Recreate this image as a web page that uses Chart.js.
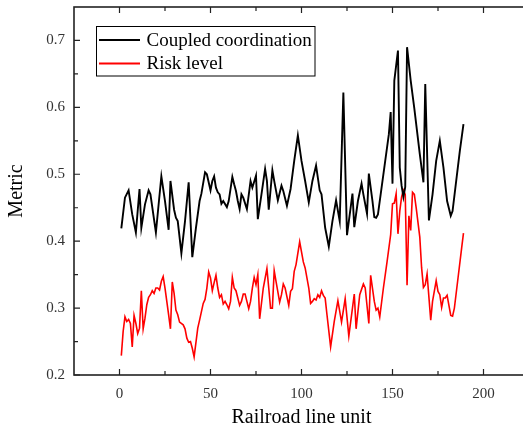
<!DOCTYPE html>
<html>
<head>
<meta charset="utf-8">
<script src="https://cdn.jsdelivr.net/npm/chart.js@4.4.1/dist/chart.umd.min.js"></script>
<style>
  html,body{margin:0;padding:0;background:#fff;overflow:hidden;}
  #wrap{width:536px;height:427px;}
</style>
</head>
<body>
<div id="wrap"><canvas id="chart" width="536" height="427"></canvas></div>
<script>
// ------------------ DATA ------------------
const coupledUnit = [1,3,5,7,9,11,12,14,16,17,20,23,25,27,28,30,31,32,34,36,38,40,42,44,45,47,48,50,51,52,53,54,55,56,57,59,60,62,63,64,65,66,67,68,70,72,73,75,76,78,80,81,82,84,85,87,89,90,92,94,96,98,100,102,104,106,108,110,111,113,115,117,119,121,123,125,127,128,129,131,133,134,136,137,139,140,141,142,144,146,148,149,150,151,153,154,155,156,157,158,160,162,165,167,168,170,172,174,176,178,180,182,183,185,187,189];
const coupledValue = [0.419,0.465,0.476,0.44,0.413,0.478,0.42,0.455,0.476,0.47,0.413,0.497,0.46,0.417,0.49,0.447,0.435,0.43,0.382,0.43,0.488,0.376,0.42,0.46,0.471,0.503,0.5,0.476,0.49,0.497,0.48,0.473,0.47,0.456,0.46,0.451,0.46,0.496,0.485,0.475,0.46,0.448,0.47,0.465,0.448,0.49,0.48,0.498,0.433,0.47,0.508,0.49,0.447,0.506,0.49,0.461,0.483,0.475,0.453,0.478,0.52,0.558,0.52,0.49,0.458,0.49,0.513,0.476,0.47,0.42,0.392,0.43,0.461,0.43,0.622,0.409,0.45,0.471,0.421,0.46,0.486,0.47,0.441,0.501,0.46,0.436,0.435,0.44,0.48,0.52,0.56,0.593,0.486,0.64,0.685,0.51,0.483,0.466,0.481,0.69,0.64,0.598,0.53,0.488,0.635,0.431,0.47,0.52,0.55,0.51,0.46,0.438,0.445,0.49,0.535,0.575];

const riskUnit = [1,2,3,4,5,6,7,8,9,10,11,12,13,14,15,16,17,18,19,20,21,22,23,24,25,27,28,29,30,31,32,33,35,36,37,38,39,40,41,43,44,46,47,48,49,50,51,52,53,54,55,56,57,58,59,60,61,62,63,64,65,66,67,68,69,70,71,72,73,74,75,76,77,79,81,82,83,84,85,86,88,89,90,91,93,94,95,96,97,99,101,102,104,105,106,107,108,109,110,111,112,113,114,116,118,120,122,124,126,128,129,130,132,134,135,137,138,140,141,142,143,145,147,149,150,151,152,153,154,155,156,157,158,159,160,161,162,163,165,166,167,168,169,171,172,174,175,176,177,178,179,180,182,183,184,186,188,189];
const riskValue = [0.229,0.265,0.287,0.28,0.283,0.277,0.242,0.289,0.277,0.262,0.27,0.326,0.269,0.285,0.305,0.316,0.32,0.326,0.322,0.33,0.33,0.327,0.34,0.347,0.33,0.29,0.269,0.339,0.322,0.297,0.29,0.279,0.275,0.269,0.255,0.249,0.25,0.24,0.227,0.27,0.282,0.307,0.313,0.33,0.354,0.345,0.326,0.338,0.349,0.33,0.316,0.32,0.306,0.31,0.305,0.299,0.31,0.346,0.33,0.326,0.315,0.304,0.31,0.321,0.321,0.31,0.299,0.31,0.33,0.346,0.335,0.35,0.284,0.33,0.359,0.33,0.3,0.3,0.356,0.34,0.309,0.32,0.336,0.33,0.304,0.325,0.329,0.355,0.365,0.399,0.369,0.36,0.33,0.307,0.31,0.314,0.312,0.32,0.316,0.326,0.319,0.315,0.29,0.242,0.28,0.311,0.279,0.314,0.258,0.3,0.321,0.269,0.32,0.336,0.33,0.277,0.349,0.31,0.297,0.3,0.287,0.33,0.369,0.41,0.456,0.457,0.471,0.411,0.445,0.466,0.476,0.47,0.334,0.438,0.416,0.473,0.47,0.45,0.406,0.36,0.331,0.335,0.351,0.282,0.31,0.341,0.325,0.32,0.301,0.315,0.315,0.319,0.289,0.288,0.3,0.345,0.39,0.412];

const xTicks = [0,50,100,150,200];
const yTicks = [0.2,0.3,0.4,0.5,0.6,0.7];

const serif = "'Times New Roman','Liberation Serif',serif";

// ------------------ FRAME + INWARD TICKS ------------------
const framePlugin = {
  id:"frame",
  afterDatasetsDraw(chart){
    const {ctx, chartArea:a, scales:{x,y}} = chart;
    ctx.save();
    ctx.strokeStyle = "#222";
    ctx.lineWidth = 1.6;
    ctx.strokeRect(a.left, a.top, a.right-a.left, a.bottom-a.top);
    ctx.lineWidth = 1.2;
    ctx.beginPath();
    const tickX = (v,len)=>{
      const px = x.getPixelForValue(v);
      ctx.moveTo(px,a.bottom); ctx.lineTo(px,a.bottom-len);
      ctx.moveTo(px,a.top); ctx.lineTo(px,a.top+len);
    };
    const tickY = (v,len)=>{
      const py = y.getPixelForValue(v);
      ctx.moveTo(a.left,py); ctx.lineTo(a.left+len,py);
      ctx.moveTo(a.right,py); ctx.lineTo(a.right-len,py);
    };
    xTicks.forEach(v=>{ tickX(v,6); tickX(v+25,4); });
    yTicks.forEach(v=>{ tickY(v,6); if(v<0.7) tickY(v+0.05,4); });
    ctx.stroke();
    ctx.restore();
  }
};

// ------------------ LEGEND BOX ------------------
const legendBox = {
  id:"legendBox",
  afterDatasetsDraw(chart){
    const ctx = chart.ctx;
    ctx.save();
    ctx.fillStyle = "#fff";
    ctx.fillRect(96.5,26.5,218.5,49.5);
    ctx.strokeStyle = "#000";
    ctx.lineWidth = 1;
    ctx.strokeRect(96.5,26.5,218.5,49.5);
    ctx.font = "19px " + serif;
    ctx.textBaseline = "middle";
    chart.data.datasets.forEach((ds,i)=>{
      const cy = 40 + i*23.5;
      ctx.strokeStyle = ds.borderColor;
      ctx.lineWidth = 2;
      ctx.beginPath(); ctx.moveTo(99,cy); ctx.lineTo(140,cy); ctx.stroke();
      ctx.fillStyle = "#000";
      ctx.fillText(ds.label,146.5,cy+1);
    });
    ctx.restore();
  }
};

// ------------------ CHART ------------------
const ctx = document.getElementById("chart").getContext("2d");
new Chart(ctx,{
  type:"line",
  data:{
    datasets:[
      { label:"Coupled coordination", data:coupledUnit.map((u,i)=>({x:u,y:coupledValue[i]})),
        borderColor:"#000", borderWidth:1.9, pointRadius:0, tension:0, fill:false },
      { label:"Risk level", data:riskUnit.map((u,i)=>({x:u,y:riskValue[i]})),
        borderColor:"#ff0000", borderWidth:1.6, pointRadius:0, tension:0, fill:false }
    ]
  },
  options:{
    responsive:false,
    animation:false,
    layout:{ padding:{ top:7, right:7, left:0, bottom:0 } },
    plugins:{ legend:{display:false}, tooltip:{enabled:false} },
    scales:{
      x:{
        type:"linear", min:-25, max:225,
        afterFit(s){ s.height = 52; s.paddingLeft = 0; s.paddingRight = 0; },
        afterBuildTicks(s){ s.ticks = xTicks.map(v=>({value:v})); },
        grid:{ display:false, drawTicks:false },
        border:{ display:false },
        ticks:{ padding:10, color:"#333", font:{ family:serif, size:15 }, maxRotation:0 },
        title:{ display:true, text:"Railroad line unit", color:"#000", font:{ family:serif, size:20, lineHeight:0.9 }, padding:{top:0,bottom:0} }
      },
      y:{
        min:0.2, max:0.75,
        afterFit(s){ s.width = 74; s.paddingTop = 0; s.paddingBottom = 0; },
        afterBuildTicks(s){ s.ticks = yTicks.map(v=>({value:v})); },
        grid:{ display:false, drawTicks:false },
        border:{ display:false },
        ticks:{ padding:9, color:"#333", font:{ family:serif, size:15 }, callback:v=>v.toFixed(1) },
        title:{ display:true, text:"Metric", color:"#000", font:{ family:serif, size:20 }, padding:{top:5,bottom:0} }
      }
    }
  },
  plugins:[framePlugin, legendBox]
});
</script>
</body>
</html>
